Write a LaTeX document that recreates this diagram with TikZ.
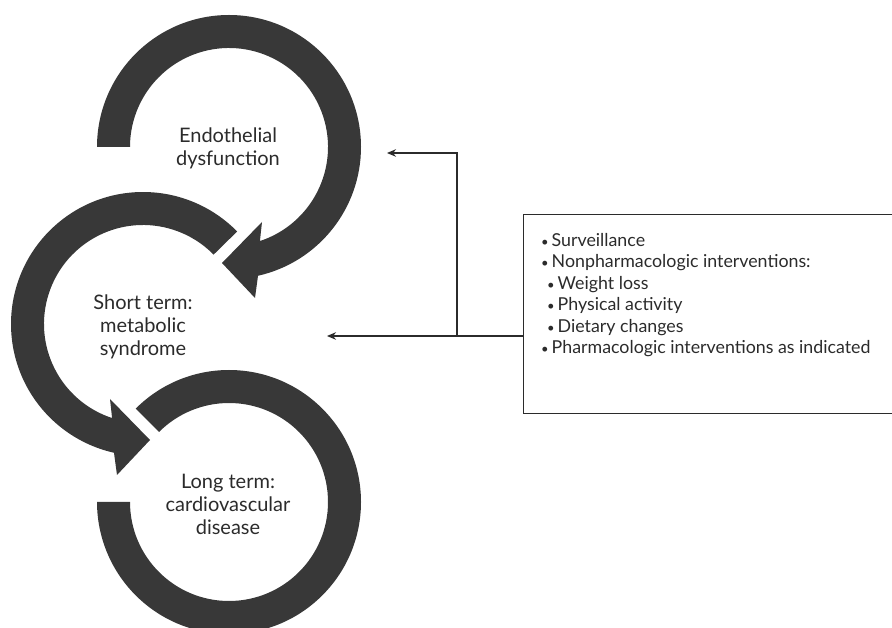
\documentclass[tikz,border=0pt]{standalone}
\usepackage{fontspec}
\setmainfont{Lato}
\usetikzlibrary{arrows.meta,calc}
\definecolor{ringgray}{HTML}{383838}
\definecolor{ink}{HTML}{2B2B2B}
\newcommand{\blt}{{\fontsize{13}{13}\selectfont•}\,}
\begin{document}
\begin{tikzpicture}[x=1pt,y=1pt,
  ringfill/.style={fill=ringgray,draw=none},
  cyclelabel/.style={align=center,font=\fontsize{20}{23}\selectfont,text=ink,inner sep=0pt},
  listtext/.style={align=left,font=\fontsize{17.8}{21.5}\selectfont,text=ink,inner sep=0pt},
  boxstyle/.style={draw=ink,line width=1.3pt,inner sep=0pt},
  conn/.style={draw=ink,line width=1.1pt,-{Stealth[length=9pt,width=7.5pt]}}]
\useasboundingbox (0,0) rectangle (892,627);
\coordinate (C1) at (229,480);
\coordinate (C2) at (143,303);
\coordinate (C3) at (229,125);
% ring 1
\fill[ringfill] ($(C1)+(180:132)$) arc[start angle=180,end angle=-77.3,radius=132]
  -- (255,329) -- (222,364) -- (262,405) -- ($(C1)+(-71.8:99)$)
  arc[start angle=-71.8,end angle=180,radius=99] -- cycle;
% ring 2
\fill[ringfill] ($(C2)+(44.5:132)$) arc[start angle=44.5,end angle=257.3,radius=132]
  -- (117,152) -- (150,187) -- (110,228) -- ($(C2)+(251.8:99)$)
  arc[start angle=251.8,end angle=44.5,radius=99] -- cycle;
% ring 3
\fill[ringfill] ($(C3)+(135:132)$) arc[start angle=135,end angle=-180,radius=132]
  -- ($(C3)+(180:99)$) arc[start angle=-180,end angle=135,radius=99] -- cycle;
% labels
\node[cyclelabel] (t1) at (228,479) {Endothelial\\dysfunction};
\node[cyclelabel] (t2) at (143,300) {Short term:\\metabolic\\syndrome};
\node[cyclelabel] (t3) at (228,123) {Long term:\\cardiovascular\\disease};
% box
\node[boxstyle,minimum width=380pt,minimum height=199pt,anchor=north west] (box) at (522.5,413) {};
\node[listtext,anchor=north west] (list) at (541,394) {%
\blt Surveillance\\
\blt Nonpharmacologic interventions:\\
\hspace*{6pt}\blt Weight loss\\
\hspace*{6pt}\blt Physical activity\\
\hspace*{6pt}\blt Dietary changes\\
\blt Pharmacologic interventions as indicated};
% connectors
\coordinate (a1) at (387,474);
\coordinate (a2) at (327,291);
\coordinate (j) at (457,291);
\draw[conn] (box.west |- j) -- (a2);
\draw[conn] (j) |- (a1);
\end{tikzpicture}
\end{document}
